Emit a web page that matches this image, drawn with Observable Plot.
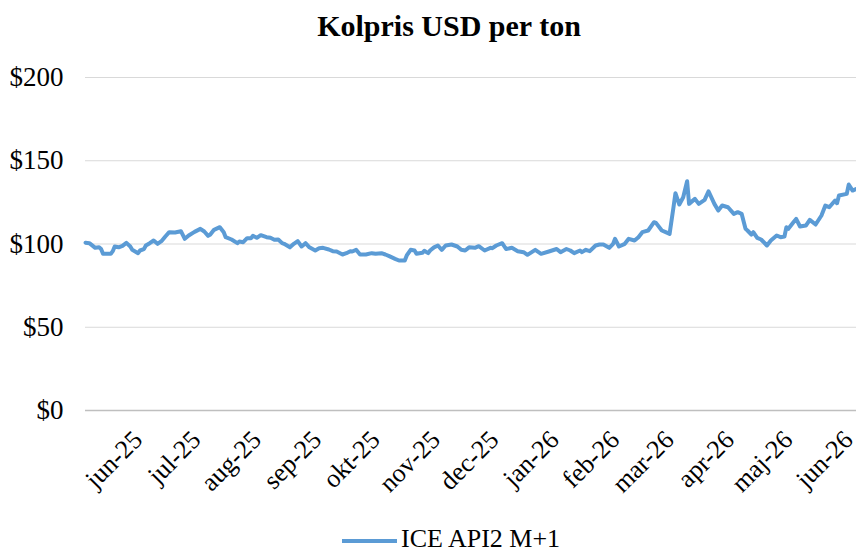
<!DOCTYPE html>
<html><head><meta charset="utf-8">
<script src="https://cdn.jsdelivr.net/npm/d3@7"></script>
<script src="https://cdn.jsdelivr.net/npm/@observablehq/plot@0.6"></script>
<style>
body{margin:0;background:#fff;}
#wrap{position:relative;width:856px;height:552px;font-family:"Liberation Serif","Times New Roman",serif;color:#000;overflow:hidden;background:#fff}
#title{position:absolute;top:9px;left:0;width:856px;text-align:center;font-weight:bold;font-size:30px;padding-left:42px;box-sizing:border-box;line-height:normal;z-index:2}
#legend{position:absolute;left:342px;top:524px;display:flex;align-items:center;font-size:26px;line-height:30px;z-index:2}
#legend .sw{width:55px;height:4px;background:#5b9bd5;margin-right:4px;position:relative;top:2px}
#chart{position:absolute;left:0;top:0}
</style></head>
<body>
<div id="wrap">
  <div id="chart"></div>
  <div id="title">Kolpris USD per ton</div>
  <div id="legend"><span class="sw"></span><span>ICE API2 M+1</span></div>
</div>
<script>
const dates = ["2025-05-03","2025-05-05","2025-05-08","2025-05-10","2025-05-11","2025-05-12","2025-05-16","2025-05-17","2025-05-18","2025-05-20",
"2025-05-22","2025-05-24","2025-05-26","2025-05-27","2025-05-30","2025-05-31","2025-06-02","2025-06-03","2025-06-05","2025-06-07",
"2025-06-09","2025-06-11","2025-06-13","2025-06-15","2025-06-18","2025-06-21","2025-06-23","2025-06-25","2025-06-28","2025-07-01",
"2025-07-03","2025-07-05","2025-07-06","2025-07-08","2025-07-11","2025-07-13","2025-07-14","2025-07-17","2025-07-20","2025-07-21",
"2025-07-23","2025-07-25","2025-07-27","2025-07-28","2025-07-30","2025-08-01","2025-08-04","2025-08-06","2025-08-08","2025-08-10",
"2025-08-12","2025-08-13","2025-08-16","2025-08-18","2025-08-20","2025-08-22","2025-08-24","2025-08-26","2025-08-29","2025-08-31",
"2025-09-02","2025-09-05","2025-09-07","2025-09-09","2025-09-12","2025-09-14","2025-09-16","2025-09-17","2025-09-19","2025-09-21",
"2025-09-24","2025-09-27","2025-09-29","2025-10-02","2025-10-04","2025-10-06","2025-10-09","2025-10-11","2025-10-14","2025-10-15",
"2025-10-17","2025-10-19","2025-10-20","2025-10-23","2025-10-24","2025-10-26","2025-10-27","2025-10-29","2025-10-31","2025-11-02",
"2025-11-04","2025-11-07","2025-11-10","2025-11-12","2025-11-14","2025-11-16","2025-11-19","2025-11-21","2025-11-24","2025-11-27",
"2025-11-28","2025-11-30","2025-12-03","2025-12-05","2025-12-08","2025-12-11","2025-12-14","2025-12-16","2025-12-20","2025-12-23",
"2025-12-27","2025-12-31","2026-01-02","2026-01-05","2026-01-07","2026-01-09","2026-01-12","2026-01-13","2026-01-15","2026-01-17",
"2026-01-20","2026-01-22","2026-01-24","2026-01-27","2026-01-29","2026-01-30","2026-02-01","2026-02-04","2026-02-06","2026-02-09",
"2026-02-11","2026-02-13","2026-02-16","2026-02-19","2026-02-20","2026-02-23","2026-02-25","2026-02-27","2026-03-01","2026-03-02",
"2026-03-04","2026-03-06","2026-03-08","2026-03-09","2026-03-12","2026-03-14","2026-03-17","2026-03-19","2026-03-22","2026-03-24",
"2026-03-26","2026-03-29","2026-04-01","2026-04-03","2026-04-05","2026-04-07","2026-04-08","2026-04-10","2026-04-11","2026-04-13",
"2026-04-15","2026-04-18","2026-04-20","2026-04-23","2026-04-25","2026-04-27","2026-04-28","2026-04-29","2026-05-01","2026-05-03",
"2026-05-05","2026-05-08","2026-05-10","2026-05-13","2026-05-16","2026-05-18","2026-05-20","2026-05-23","2026-05-24","2026-05-25",
"2026-05-29","2026-05-30","2026-06-01","2026-06-03"];

const prices = [100.8,100.5,97.7,98,97,94.1,94.1,95.7,98.5,98,
98.9,100.7,98.5,96.5,94.5,96.1,96.9,99.1,100.5,102.1,
100.1,101.7,104.5,107.1,106.9,107.7,103.1,105.1,107.3,109.1,
107.5,104.9,105.5,108.5,110.1,107.1,104.1,102.7,100.5,101.5,
101.1,103.5,103.5,104.9,103.7,105.3,104.1,103.7,102.5,102.7,
100.5,100.1,98,100.1,101.7,98.5,100.5,98,96.1,97.5,
97.7,96.7,95.7,95.5,93.7,94.5,95.7,95.5,96.5,93.7,
93.7,94.5,94.1,94.5,93.7,92.7,91.1,90.1,90.1,93.1,
96.5,96.1,94.1,94.7,95.9,94.5,96.1,98,99.1,96.5,
99.1,99.7,98.5,96.5,96.1,98,97.7,98.7,96.1,97.7,
97.5,99.1,100.5,97,97.7,95.7,95.1,93.5,96.5,94.1,
95.5,97,95.1,97,96.1,94.5,96.1,95.1,96.5,95.7,
99.1,99.7,99.7,97.7,100.1,103.1,98.5,100.1,103.1,102.1,
104.1,107.1,108.1,113.1,112.7,108.1,107.1,106.1,122.1,130.5,
123.7,128.1,137.7,124.1,127.1,124.1,126.5,131.7,124.1,120.1,
123.1,122.1,118.1,119.1,118.1,109.1,108.1,105.7,107.1,103.7,
102.7,99.1,102.1,105.1,104.1,104.5,110.1,109.1,112.1,115.1,
110.5,111.1,114.5,111.7,117.1,123.1,122.1,126.1,124.5,129.1,
130.1,135.7,132.1,133.1];

const tickDates = ["2025-06-01","2025-07-01","2025-08-01","2025-09-01","2025-10-01","2025-11-01","2025-12-01",
"2026-01-01","2026-02-01","2026-03-01","2026-04-01","2026-05-01","2026-06-01"];
const monthNames = ["jan","feb","mar","apr","maj","jun","jul","aug","sep","okt","nov","dec"];
const yTicks = [0,50,100,150,200];

const data = dates.map((d,i) => ({date: new Date(d + "T00:00:00Z"), price: prices[i]}));
const fmtMonth = d => monthNames[d.getUTCMonth()] + "-" + String(d.getUTCFullYear()).slice(2);

const chart = Plot.plot({
  width: 856, height: 552,
  marginTop: 77, marginBottom: 142, marginLeft: 85, marginRight: 0,
  style: {fontFamily: '"Liberation Serif","Times New Roman",serif', fontSize: "24px", color: "#000", background: "transparent", overflow: "visible"},
  x: {type: "utc", domain: [new Date("2025-05-03T00:00:00Z"), new Date("2026-06-03T00:00:00Z")]},
  y: {domain: [0, 200]},
  marks: [
    Plot.gridY(yTicks, {stroke: "#d9d9d9", strokeOpacity: 1, strokeWidth: 1}),
    Plot.ruleY([0], {stroke: "#bfbfbf", strokeWidth: 1.3}),
    Plot.axisY(yTicks, {tickSize: 0, tickPadding: 22, tickFormat: d => "$" + d, fontSize: 27, label: null}),
    Plot.axisX(tickDates.map(d => new Date(d + "T00:00:00Z")), {tickSize: 0, tickPadding: 25, dx: -4, tickRotate: -45, fontSize: 26, tickFormat: fmtMonth, label: null}),
    Plot.lineY(data, {x: "date", y: "price", stroke: "#5b9bd5", strokeWidth: 4, strokeLinejoin: "round"})
  ]
});
document.getElementById("chart").appendChild(chart);
</script>
</body></html>
